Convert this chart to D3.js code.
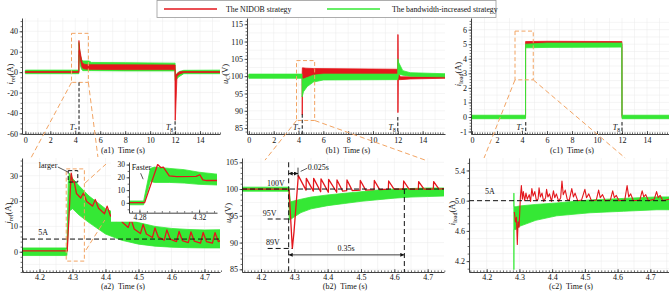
<!DOCTYPE html>
<html>
<head>
<meta charset="utf-8">
<script src="https://cdn.jsdelivr.net/npm/d3@7/dist/d3.min.js"></script>
<style>
  body { margin: 0; background: #fff; }
  svg { display: block; }
</style>
</head>
<body>
<svg id="chart" width="669" height="294"></svg>
<script>
// ---- values ----
const strategies = ['The NIDOB strategy', 'The bandwidth-increased strategy']

// switching instants T7 / T8 (s)
const switchTimes = [4.3, 12]
const switchNames = ['7', '8']

// top row, whole run. bands are [time s, low, high] of the ripple
const a1Green = [[0,-1.5,2],[4.283,-1.5,2],[4.288,10,29],[4.30,17,29],[4.33,13,24],[4.40,7,17],[4.50,3,12.5],[4.6,1.5,11],[5.1,1.5,11],[5.3,1.5,9.5],[8,1.2,9.3],[11.99,1.2,8.8],[12.0,-8,8.8],[12.03,-8,-3],[12.3,-4.5,0.5],[12.7,-1.5,1.8],[15.8,-1.5,2]]
const a1Red = [[0,-0.4,0.6],[4.283,-0.4,0.6],[4.296,0,31],[4.31,21,28],[4.35,18,23],[4.45,10,16],[4.55,4.5,9.5],[4.7,3.3,7.8],[5.0,2.8,7.3],[8,2.5,7.2],[11.99,2.5,7],[12.0,-47,7],[12.02,-47,-4],[12.15,-4,-1.5],[12.4,-1.5,0.5],[12.7,-0.4,0.6],[15.8,-0.4,0.6]]

const b1Green = [[0,99.4,100.6],[4.283,99.4,100.6],[4.29,94,99.3],[4.4,95.5,99.2],[4.7,97,99.6],[5.2,98.3,100.3],[6,98.9,100.6],[11.99,99,100.6],[12.0,99,105],[12.06,100.6,104],[12.4,100.3,101.6],[13,100,101],[15.8,99.8,100.7]]
const b1Red = [[0,99.8,100.2],[4.283,99.8,100.2],[4.29,88.8,100.2],[4.31,88.8,102.4],[4.33,98,102.4],[4.6,99.5,102.3],[5.2,100,102.2],[11.99,100.2,102],[12.0,89.5,112],[12.02,89.5,112],[12.04,99,101],[12.2,99,99.8],[13,99.2,99.8],[15.8,99.4,99.9]]

const c1Green = [[0,-0.12,0.12],[4.283,-0.12,0.12],[4.286,4.75,5.0],[6,4.78,5.08],[11.99,4.8,5.08],[12.0,-0.12,0.12],[15.8,-0.12,0.12]]
const c1Red = [[0,-0.05,0.05],[4.283,-0.05,0.05],[4.286,4.95,5.18],[6,5.0,5.2],[11.99,5.0,5.18],[12.0,-0.05,0.05],[15.8,-0.05,0.05]]

// bottom row, zoom on T7
const a2Green = [[4.147,-1.5,1.5],[4.283,-1.5,1.5],[4.287,8,27],[4.29,16,31],[4.30,17,29],[4.32,14.5,26],[4.35,11.5,22],[4.40,7,17],[4.45,4.5,14],[4.50,3,11.5],[4.55,2.2,10],[4.60,1.8,9.2],[4.65,1.6,8.8],[4.70,1.5,8.6],[4.75,1.5,8.7]]
const a2Red = [[4.147,0.3],[4.284,0.3],[4.296,31],[4.301,27.5],[4.305,27.8],[4.312,23],[4.325,21.2],[4.333,23.2],[4.343,19.8],[4.361,18],[4.369,20.6],[4.379,17.2],[4.397,15],[4.405,18],[4.415,14.2],[4.433,12.2],[4.441,15.8],[4.451,11.6],[4.469,9.6],[4.477,13],[4.487,9],[4.506,7.2],[4.514,10.8],[4.524,7],[4.542,5.6],[4.55,9.4],[4.56,5.8],[4.578,4.6],[4.586,8.6],[4.596,5],[4.615,4],[4.623,8],[4.633,4.4],[4.651,3.6],[4.659,7.8],[4.669,4.2],[4.688,3.4],[4.696,7.6],[4.706,4],[4.724,3.4],[4.732,7.5],[4.742,4],[4.75,4.5]]

// inset of (a2)
const insGreen = [[4.273,-1.5,1.5],[4.2828,-1.5,1.5],[4.2873,17,27],[4.29,16,28],[4.30,16,27],[4.31,15.5,26],[4.32,14.5,24],[4.332,14,22.5]]
const insRed = [[4.273,0.2],[4.2835,0.2],[4.2922,30],[4.2945,27.5],[4.296,28],[4.300,21.2],[4.305,20.6],[4.318,20.8],[4.3205,22],[4.3225,18],[4.325,17.5],[4.332,17.5]]

const b2Green = [[4.143,99.6,100.35],[4.2835,99.6,100.35],[4.2845,94.3,100.3],[4.288,94.3,97.6],[4.30,94.8,97.8],[4.32,95.6,98.1],[4.35,96.3,98.5],[4.40,96.9,98.9],[4.45,97.3,99.2],[4.50,97.7,99.5],[4.55,98,99.8],[4.60,98.3,100],[4.65,98.5,100.1],[4.70,98.6,100.2],[4.75,98.7,100.2]]
const b2Red = [[4.143,100],[4.284,100],[4.294,88.9],[4.299,92],[4.312,102.5],[4.335,99.8],[4.336,102],[4.357,99.6],[4.358,102],[4.379,99.5],[4.38,101.9],[4.402,99.4],[4.403,101.8],[4.427,99.4],[4.428,101.7],[4.445,99.6],[4.457,99.7],[4.458,101.7],[4.474,99.7],[4.497,99.8],[4.498,101.6],[4.514,99.8],[4.539,99.9],[4.54,101.6],[4.556,99.9],[4.582,100],[4.583,101.5],[4.599,100],[4.627,100],[4.628,101.5],[4.644,100],[4.672,100],[4.673,101.4],[4.689,100],[4.717,100],[4.718,101.4],[4.734,100],[4.75,100.1]]

const c2Green = [[4.283,4.087,5.1],[4.2833,4.087,5.1],[4.2836,4.62,4.92],[4.29,4.62,4.92],[4.30,4.66,4.93],[4.35,4.74,4.95],[4.414,4.8,4.97],[4.516,4.84,5.01],[4.618,4.86,5.03],[4.72,4.88,5.05],[4.757,4.88,5.05]]
const c2Red = [[4.2845,4.85],[4.288,4.72],[4.291,4.78],[4.2936,4.42],[4.296,4.72],[4.299,4.65],[4.303,5.05],[4.306,5.2],[4.309,5.02],[4.312,5.12],[4.316,5.0],[4.32,5.1],[4.324,5.02],[4.33,5.08],[4.334,4.99],[4.338,5.16],[4.342,5.06],[4.347,5.12],[4.352,5.0],[4.357,5.02],[4.36,5.17],[4.364,5.05],[4.369,5.1],[4.374,4.99],[4.38,5.04],[4.383,5.15],[4.387,5.05],[4.392,5.09],[4.398,4.99],[4.404,5.13],[4.408,5.04],[4.413,5.09],[4.42,4.99],[4.426,5.04],[4.43,5.26],[4.434,5.08],[4.44,5.14],[4.446,5.02],[4.452,5.0],[4.46,5.16],[4.465,5.05],[4.47,5.1],[4.478,5.0],[4.49,5.01],[4.5,5.15],[4.505,5.04],[4.512,5.09],[4.52,5.0],[4.535,5.01],[4.542,5.14],[4.547,5.04],[4.554,5.08],[4.562,5.0],[4.578,5.01],[4.585,5.13],[4.59,5.04],[4.596,5.07],[4.604,5.0],[4.622,5.01],[4.629,5.2],[4.634,5.05],[4.64,5.09],[4.648,5.0],[4.668,5.01],[4.675,5.13],[4.68,5.05],[4.686,5.08],[4.694,5.0],[4.712,5.02],[4.719,5.12],[4.724,5.04],[4.73,5.07],[4.738,5.0],[4.757,5.02]]

// tick values
const topTimeTicks = [0, 2, 4, 6, 8, 10, 12, 14]
const zoomTimeTicks = [4.2, 4.3, 4.4, 4.5, 4.6, 4.7]
const a1Ticks = [-60, -40, -20, 0, 20, 40]
const b1Ticks = [85, 90, 95, 100, 105, 110, 115]
const c1Ticks = [-1, 0, 1, 2, 3, 4, 5, 6]
const a2Ticks = [0, 10, 20, 30]
const b2Ticks = [85, 90, 95, 100, 105]
const c2Ticks = [4.2, 4.6, 5.0, 5.4]
const insXTicks = [4.28, 4.32]
const insYTicks = [0, 10, 20, 30]

// marked levels and spans
const currentRef = 5
const b2Levels = [100, 94.4, 88.9]
const b2LevelNames = ['100V', '95V', '89V']
const b2Spans = [[4.283, 4.311], [4.283, 4.63]]
const b2SpanNames = ['0.025s', '0.35s']

// ---- layout ----
const layout = {
    a1: {left: 22, right: 220, top: 18, bottom: 134, xd: [-0.27, 15.6], yd: [-60.5, 53]},
    b1: {left: 247, right: 445, top: 18, bottom: 134, xd: [-0.15, 15.8], yd: [83.3, 116.8]},
    c1: {left: 471, right: 669, top: 18, bottom: 134, xd: [-0.08, 15.76], yd: [-1.17, 6.8]},
    a2: {left: 22, right: 220, top: 158, bottom: 272, xd: [4.147, 4.747], yd: [-8, 37]},
    b2: {left: 242, right: 444, top: 158, bottom: 272, xd: [4.143, 4.749], yd: [84.5, 105.8]},
    c2: {left: 469, right: 669, top: 158, bottom: 272, xd: [4.146, 4.757], yd: [4.056, 5.565]},
    ins: {left: 129, right: 217, top: 162, bottom: 212.7, xd: [4.273, 4.332], yd: [-7.7, 32]}
}

const FONT = '"Liberation Serif", "Times New Roman", serif'
const RED = '#e3161c', GREEN = '#35e835', ORANGE = '#f2a463', INK = '#111'

const svg = d3.select('#chart')
const defs = svg.append('defs')
defs.append('marker').attr('id', 'arrow')
    .attr('viewBox', '0 0 6 6').attr('refX', 6).attr('refY', 3)
    .attr('markerWidth', 4).attr('markerHeight', 4)
    .attr('markerUnits', 'userSpaceOnUse').attr('orient', 'auto-start-reverse')
    .append('path').attr('d', 'M0,0L6,3L0,6Z').attr('fill', INK)

function makePanel(name) {
    const c = layout[name]
    const x = d3.scaleLinear().domain(c.xd).range([c.left, c.right])
    const y = d3.scaleLinear().domain(c.yd).range([c.bottom, c.top])
    defs.append('clipPath').attr('id', 'clip-' + name)
        .append('rect').attr('x', c.left).attr('y', c.top - 1)
        .attr('width', c.right - c.left).attr('height', c.bottom - c.top + 1)
    const g = svg.append('g').attr('class', 'panel-' + name)
    return {name, c, x, y, g}
}

function drawGrid(p, xs, ys) {
    const gg = p.g.append('g').attr('stroke', '#ebebeb').attr('stroke-width', 0.5)
    gg.selectAll('line.gx').data(xs).join('line').attr('class', 'gx')
        .attr('x1', d => p.x(d)).attr('x2', d => p.x(d))
        .attr('y1', p.c.top).attr('y2', p.c.bottom)
    gg.selectAll('line.gy').data(ys).join('line').attr('class', 'gy')
        .attr('x1', p.c.left).attr('x2', p.c.right)
        .attr('y1', d => p.y(d)).attr('y2', d => p.y(d))
}

function drawBand(p, data, color) {
    const area = d3.area().x(d => p.x(d[0])).y0(d => p.y(d[1])).y1(d => p.y(d[2]))
    p.g.append('path').datum(data)
        .attr('clip-path', `url(#clip-${p.name})`)
        .attr('d', area)
        .attr('fill', color).attr('stroke', color)
        .attr('stroke-width', 0.8).attr('stroke-linejoin', 'round')
}

function drawLine(p, data, color, w) {
    const line = d3.line().x(d => p.x(d[0])).y(d => p.y(d[1]))
    p.g.append('path').datum(data)
        .attr('clip-path', `url(#clip-${p.name})`)
        .attr('d', line)
        .attr('fill', 'none').attr('stroke', color)
        .attr('stroke-width', w).attr('stroke-linejoin', 'round')
}

function drawAxes(p, o) {
    const c = p.c
    const fs = o.fs || 8
    const xa = p.g.append('g').attr('transform', `translate(0,${c.bottom})`)
        .call(d3.axisBottom(p.x).tickValues(o.xt).tickFormat(o.xf)
            .tickSize(-3).tickSizeOuter(0).tickPadding(o.xpad))
    const xm = p.g.append('g').attr('transform', `translate(0,${c.bottom})`)
        .call(d3.axisBottom(p.x).tickValues(o.xm).tickFormat('').tickSize(-1.6).tickSizeOuter(0))
    xm.select('.domain').remove()
    const ya = p.g.append('g').attr('transform', `translate(${c.left},0)`)
        .call(d3.axisLeft(p.y).tickValues(o.yt).tickFormat(o.yf)
            .tickSize(2.5).tickSizeOuter(0).tickPadding(1.5))
    const ym = p.g.append('g').attr('transform', `translate(${c.left},0)`)
        .call(d3.axisLeft(p.y).tickValues(o.ym).tickFormat('').tickSize(1.4).tickSizeOuter(0))
    ym.select('.domain').remove()
    ;[xa, xm, ya, ym].forEach(a => {
        a.select('.domain').attr('stroke', INK).attr('stroke-width', 0.8)
        a.selectAll('.tick line').attr('stroke', INK).attr('stroke-width', 0.6)
        a.selectAll('.tick text').attr('font-family', FONT).attr('font-size', fs).attr('fill', INK)
    })
}

// text made of parts: {t, it: italic, sub: subscript}
function richText(sel, parts, fs) {
    parts.forEach(pt => {
        const ts = sel.append('tspan').text(pt.t)
        if (pt.it) ts.attr('font-style', 'italic')
        if (pt.sub) ts.attr('font-size', fs * 0.7).attr('dy', fs * 0.25)
        else if (pt.after) ts.attr('dy', -fs * 0.25)
    })
}

function yTitle(x, y, parts) {
    const t = svg.append('text')
        .attr('transform', `translate(${x},${y}) rotate(-90)`)
        .attr('text-anchor', 'middle')
        .attr('font-family', FONT).attr('font-size', 8.5).attr('fill', INK)
    richText(t, parts, 8.5)
}

function xTitle(p, tag, y) {
    svg.append('text')
        .attr('x', (p.c.left + p.c.right) / 2 + 2).attr('y', y)
        .attr('text-anchor', 'middle')
        .attr('font-family', FONT).attr('font-size', 8).attr('fill', INK)
        .text(`(${tag})\u00a0\u00a0Time (s)`)
}

function label(p, t, v, txt, anchor, fs) {
    return p.g.append('text').attr('x', p.x(t)).attr('y', p.y(v))
        .attr('text-anchor', anchor || 'middle')
        .attr('font-family', FONT).attr('font-size', fs || 8).attr('fill', INK)
        .text(txt)
}

function seg(p, t1, v1, t2, v2, color, dash, w) {
    return p.g.append('line')
        .attr('x1', p.x(t1)).attr('y1', p.y(v1)).attr('x2', p.x(t2)).attr('y2', p.y(v2))
        .attr('stroke', color).attr('stroke-width', w || 1)
        .attr('stroke-dasharray', dash || null)
}

function dashBox(p, b, color) {
    p.g.append('rect')
        .attr('x', p.x(b[0])).attr('y', p.y(b[3]))
        .attr('width', p.x(b[1]) - p.x(b[0])).attr('height', p.y(b[2]) - p.y(b[3]))
        .attr('fill', 'none').attr('stroke', color).attr('stroke-width', 1)
        .attr('stroke-dasharray', '4,2.5')
}

function tMark(p, i, vFrom) {
    const t = switchTimes[i]
    seg(p, t, vFrom, t, p.c.yd[0], INK, '3.5,2', 1)
    const tx = p.g.append('text').attr('x', p.x(t) - 2).attr('y', p.c.bottom - 4)
        .attr('text-anchor', 'end')
        .attr('font-family', FONT).attr('font-size', 8).attr('fill', INK)
    tx.append('tspan').attr('font-style', 'italic').text('T')
    tx.append('tspan').attr('font-size', 5.5).attr('dy', 1.8).text(switchNames[i])
}

function link(p1, a, p2, b) {
    svg.append('line')
        .attr('x1', p1.x(a[0])).attr('y1', p1.y(a[1]))
        .attr('x2', p2.x(b[0])).attr('y2', p2.y(b[1]))
        .attr('stroke', ORANGE).attr('stroke-width', 1).attr('stroke-dasharray', '5,3')
}

const topMinor = d3.range(0, 15.7, 0.2)
const zoomMinor = d3.range(4.15, 4.755, 0.01)
const fmtInt = d => String(d)
const fmt1 = d => d.toFixed(1)

// ---- (a1) ----
const a1 = makePanel('a1')
drawGrid(a1, d3.range(0, 16, 1), d3.range(-60, 53, 10))
drawBand(a1, a1Green, GREEN)
drawBand(a1, a1Red, RED)
const a1Box = [3.7, 5.05, -10, 38]
dashBox(a1, a1Box, ORANGE)
tMark(a1, 0, -10)
tMark(a1, 1, -48)
drawAxes(a1, {xt: topTimeTicks, xf: fmtInt, xm: topMinor, xpad: 3.2, yt: a1Ticks, yf: fmtInt, ym: d3.range(-60, 53, 5)})

// ---- (b1) ----
const b1 = makePanel('b1')
drawGrid(b1, d3.range(0, 16, 1), d3.range(85, 117, 2.5))
drawBand(b1, b1Red, RED)
drawBand(b1, b1Green, GREEN)
const b1Box = [3.84, 5.3, 87.2, 104.5]
dashBox(b1, b1Box, ORANGE)
tMark(b1, 0, 89)
tMark(b1, 1, 88.2)
drawAxes(b1, {xt: topTimeTicks, xf: fmtInt, xm: topMinor, xpad: 3.2, yt: b1Ticks, yf: fmtInt, ym: d3.range(84, 117, 1)})

// ---- (c1) ----
const c1 = makePanel('c1')
drawGrid(c1, d3.range(0, 16, 1), d3.range(-1, 7, 0.5))
drawBand(c1, c1Red, RED)
drawBand(c1, c1Green, GREEN)
const c1Box = [3.44, 4.9, 2.55, 5.9]
dashBox(c1, c1Box, ORANGE)
tMark(c1, 0, -0.35)
tMark(c1, 1, -0.35)
drawAxes(c1, {xt: topTimeTicks, xf: fmtInt, xm: topMinor, xpad: 3.2, yt: c1Ticks, yf: fmtInt, ym: d3.range(-1, 6.8, 0.2)})

// ---- (a2) ----
const a2 = makePanel('a2')
drawGrid(a2, d3.range(4.15, 4.75, 0.05), d3.range(-5, 37, 5))
drawBand(a2, a2Green, GREEN)
drawLine(a2, a2Red, RED, 1.3)
seg(a2, a2.c.xd[0], currentRef, a2.c.xd[1], currentRef, INK, '5,3', 1)
label(a2, 4.211, 6.6, currentRef + 'A')
const a2Box = [4.281, 4.336, -3.7, 32.7]
dashBox(a2, a2Box, ORANGE)
dashBox(a2, [4.287, 4.316, 27.5, 32], INK)
label(a2, 4.254, 33, 'larger', 'end')
seg(a2, 4.2555, 33.45, 4.286, 31.5, INK, null, 0.7)
drawAxes(a2, {xt: zoomTimeTicks, xf: fmt1, xm: zoomMinor, xpad: 2.5, yt: a2Ticks, yf: fmtInt, ym: d3.range(-8, 37, 2)})

// inset of (a2)
const ic = layout.ins
svg.append('rect').attr('x', ic.left - 18).attr('y', ic.top - 4)
    .attr('width', ic.right - ic.left + 21).attr('height', ic.bottom - ic.top + 13)
    .attr('fill', '#fff')
const ins = makePanel('ins')
drawBand(ins, insGreen, GREEN)
drawLine(ins, insRed, RED, 1.3)
label(ins, 4.2748, 26.1, 'Faster', 'start')
seg(ins, 4.2808, 23.2, 4.2825, 18.5, INK, null, 0.7)
drawAxes(ins, {xt: insXTicks, xf: d => d.toFixed(2), xm: d3.range(4.275, 4.332, 0.005), xpad: 2, fs: 7.5,
    yt: insYTicks, yf: fmtInt, ym: d3.range(-5, 32, 5)})

// ---- (b2) ----
const b2 = makePanel('b2')
drawGrid(b2, d3.range(4.15, 4.75, 0.05), d3.range(85, 106, 2.5))
drawBand(b2, b2Green, GREEN)
drawLine(b2, b2Red, RED, 1.3)
seg(b2, b2.c.xd[0], b2Levels[0], b2.c.xd[1], b2Levels[0], INK, '5,3', 1)
seg(b2, 4.22, b2Levels[1], b2Spans[0][0], b2Levels[1], INK, '5,3', 1)
seg(b2, 4.22, b2Levels[2], 4.294, b2Levels[2], INK, '5,3', 1)
label(b2, 4.245, 100.66, b2LevelNames[0])
label(b2, 4.226, 95.05, b2LevelNames[1])
label(b2, 4.236, 89.54, b2LevelNames[2])
seg(b2, b2Spans[1][0], 105, b2Spans[1][0], b2.c.yd[0], INK, '5,3', 1)
seg(b2, b2Spans[1][1], b2Levels[0], b2Spans[1][1], b2.c.yd[0], INK, '5,3', 1)
seg(b2, b2Spans[1][0], 87.7, b2Spans[1][1], 87.7, INK, null, 0.8)
    .attr('marker-start', 'url(#arrow)').attr('marker-end', 'url(#arrow)')
label(b2, 4.455, 88.4, b2SpanNames[1])
seg(b2, b2Spans[0][0], 102.9, b2Spans[0][1], 102.9, INK, null, 0.8)
    .attr('marker-start', 'url(#arrow)').attr('marker-end', 'url(#arrow)')
seg(b2, b2Spans[0][1], 102.3, b2Spans[0][1], 104, INK, null, 0.8)
seg(b2, 4.319, 103.3, 4.339, 103.9, INK, null, 0.7)
label(b2, 4.34, 103.65, b2SpanNames[0], 'start')
drawAxes(b2, {xt: zoomTimeTicks, xf: fmt1, xm: zoomMinor, xpad: 2.5, yt: b2Ticks, yf: fmtInt, ym: d3.range(85, 106, 1)})

// ---- (c2) ----
const c2 = makePanel('c2')
drawGrid(c2, d3.range(4.15, 4.76, 0.05), d3.range(4.1, 5.6, 0.1))
drawBand(c2, c2Green, GREEN)
drawLine(c2, c2Red, RED, 1.1)
seg(c2, c2.c.xd[0], currentRef, c2.c.xd[1], currentRef, INK, '5,3', 1)
label(c2, 4.21, 5.088, currentRef + 'A')
drawAxes(c2, {xt: zoomTimeTicks, xf: fmt1, xm: zoomMinor, xpad: 2.5, yt: c2Ticks, yf: fmt1, ym: d3.range(4.1, 5.56, 0.1)})

// ---- titles ----
const iRef = [{t: 'i', it: true}, {t: 'ref', sub: true}, {t: '(A)', after: true}]
const uC = [{t: 'u', it: true}, {t: 'C', sub: true}, {t: '(V)', after: true}]
const iLoad = [{t: 'i', it: true}, {t: 'load', sub: true}, {t: '(A)', after: true}]
yTitle(13, 74, iRef); yTitle(228, 74, uC); yTitle(461, 74, iLoad)
yTitle(11, 213, iRef); yTitle(231, 213, uC); yTitle(455, 213, iLoad)
xTitle(a1, 'a1', 152.5); xTitle(b1, 'b1', 152.5); xTitle(c1, 'c1', 152.5)
xTitle(a2, 'a2', 289); xTitle(b2, 'b2', 289); xTitle(c2, 'c2', 289)

// ---- zoom links ----
link(a1, [a1Box[0], a1Box[2]], a2, [4.174, 37])
link(a1, [a1Box[1], a1Box[2]], a2, [4.377, 37.4])
link(b1, [b1Box[0], b1Box[2]], b2, [4.212, 105.4])
link(b1, [b1Box[1], b1Box[2]], b2, [4.693, 105.4])
link(c1, [c1Box[0], c1Box[2]], c2, [4.192, 5.565])
link(c1, [c1Box[1], c1Box[2]], c2, [4.623, 5.565])
link(a2, [4.338, 27.1], a2, [4.4015, 34.6])
link(a2, [4.341, 0.7], a2, [4.398, 12.5])

// ---- legend ----
const lg = svg.append('g')
lg.append('rect').attr('x', 157).attr('y', 0.5).attr('width', 339).attr('height', 17)
    .attr('fill', '#fff').attr('stroke', '#9a9a9a').attr('stroke-width', 0.8)
const legendPos = [{x: 164, tx: 226, color: RED}, {x: 327, tx: 392, color: GREEN}]
lg.selectAll('g.item').data(strategies).join('g').attr('class', 'item')
    .each(function (d, i) {
        const it = d3.select(this), pos = legendPos[i]
        it.append('line').attr('x1', pos.x).attr('x2', pos.x + 53).attr('y1', 9).attr('y2', 9)
            .attr('stroke', pos.color).attr('stroke-width', 1.6)
        it.append('text').attr('x', pos.tx).attr('y', 12)
            .attr('font-family', FONT).attr('font-size', 7.8).attr('fill', INK).text(d)
    })
</script>
</body>
</html>
